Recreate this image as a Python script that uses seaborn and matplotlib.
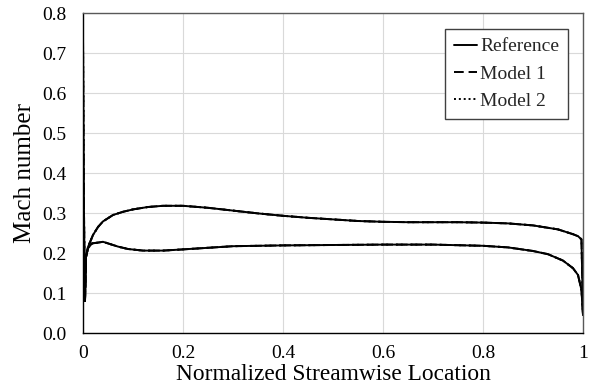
import numpy as np
import pandas as pd
import matplotlib
matplotlib.use("Agg")
import matplotlib.pyplot as plt
from matplotlib.lines import Line2D
import seaborn as sns

# Suction side (upper branch), including the leading-edge spike
suction_x = [0.0, 0.002, 0.004, 0.006, 0.01, 0.02, 0.03, 0.04, 0.06, 0.08, 0.1,
             0.13, 0.16, 0.2, 0.25, 0.3, 0.35, 0.4, 0.45, 0.5, 0.55, 0.6, 0.65,
             0.7, 0.75, 0.8, 0.85, 0.9, 0.95, 0.98, 0.99, 0.997, 1.0]
suction_mach = [0.74, 0.30, 0.08, 0.19, 0.215, 0.245, 0.265, 0.279, 0.295, 0.303, 0.309,
                0.315, 0.318, 0.318, 0.313, 0.306, 0.299, 0.293, 0.288, 0.284, 0.280, 0.278, 0.277,
                0.277, 0.277, 0.276, 0.274, 0.269, 0.259, 0.247, 0.242, 0.234, 0.045]

# Pressure side (lower branch)
pressure_x = [0.004, 0.006, 0.01, 0.018, 0.03, 0.04, 0.05, 0.07, 0.09, 0.12, 0.16,
              0.2, 0.25, 0.3, 0.4, 0.5, 0.6, 0.7, 0.8, 0.85, 0.9, 0.93, 0.96,
              0.98, 0.99, 0.997, 1.0]
pressure_mach = [0.08, 0.19, 0.212, 0.224, 0.226, 0.228, 0.224, 0.216, 0.210, 0.206, 0.206,
                 0.209, 0.213, 0.217, 0.219, 0.220, 0.221, 0.221, 0.218, 0.214, 0.205, 0.197, 0.181,
                 0.162, 0.145, 0.107, 0.045]

models = ["Reference", "Model 1", "Model 2"]
model_dashes = {"Reference": "-", "Model 1": (0, (5, 2.5)), "Model 2": (0, (1, 1.5))}

rows = []
for m in models:
    for side, xs, ys in (("suction", suction_x, suction_mach),
                         ("pressure", pressure_x, pressure_mach)):
        for xv, yv in zip(xs, ys):
            rows.append({"model": m, "side": side, "x": xv, "mach": yv})
df = pd.DataFrame(rows)

sns.set_theme(style="whitegrid")
plt.rcParams["font.family"] = ["Liberation Serif", "DejaVu Serif"]

fig = plt.figure(figsize=(5.92, 3.88), dpi=100)
ax = fig.add_axes([83 / 592, 55 / 388, 500 / 592, 320 / 388])

for m in models:
    for side in ("suction", "pressure"):
        sub = df[(df.model == m) & (df.side == side)]
        sns.lineplot(data=sub, x="x", y="mach", ax=ax, color="black",
                     linewidth=1.4, sort=False, estimator=None, legend=False,
                     linestyle=model_dashes[m])

ax.set_xlim(0, 1)
ax.set_ylim(0, 0.8)
ax.set_xticks([0, 0.2, 0.4, 0.6, 0.8, 1.0])
ax.set_xticklabels(["0", "0.2", "0.4", "0.6", "0.8", "1"])
ax.set_yticks(np.arange(0, 0.81, 0.1))
ax.set_yticklabels([f"{v:.1f}" for v in np.arange(0, 0.81, 0.1)])
ax.tick_params(axis="both", length=0, labelsize=14, colors="black")
ax.tick_params(axis="y", pad=12)
ax.tick_params(axis="x", pad=9)

ax.grid(True, color="#d9d9d9", linewidth=0.8)
ax.set_facecolor("white")
for s in ("top", "right"):
    ax.spines[s].set_color("#595959")
    ax.spines[s].set_linewidth(1.0)
for s in ("left", "bottom"):
    ax.spines[s].set_color("black")
    ax.spines[s].set_linewidth(1.0)

ax.set_xlabel("Normalized Streamwise Location", fontsize=16.8, labelpad=1, color="black")
ax.set_ylabel("Mach number", fontsize=18, labelpad=4, color="black")

handles = [Line2D([0], [0], color="black", lw=1.4, linestyle=model_dashes[m]) for m in models]
leg = ax.legend(handles, models, loc="upper right", bbox_to_anchor=(0.97, 0.95),
                borderaxespad=0, fontsize=14, handlelength=1.2, handletextpad=0.15,
                labelspacing=0.5, borderpad=0.45, fancybox=False, framealpha=1,
                edgecolor="#404040")
leg.get_frame().set_linewidth(1.0)

fig.savefig("out.png", dpi=100, facecolor="white")
